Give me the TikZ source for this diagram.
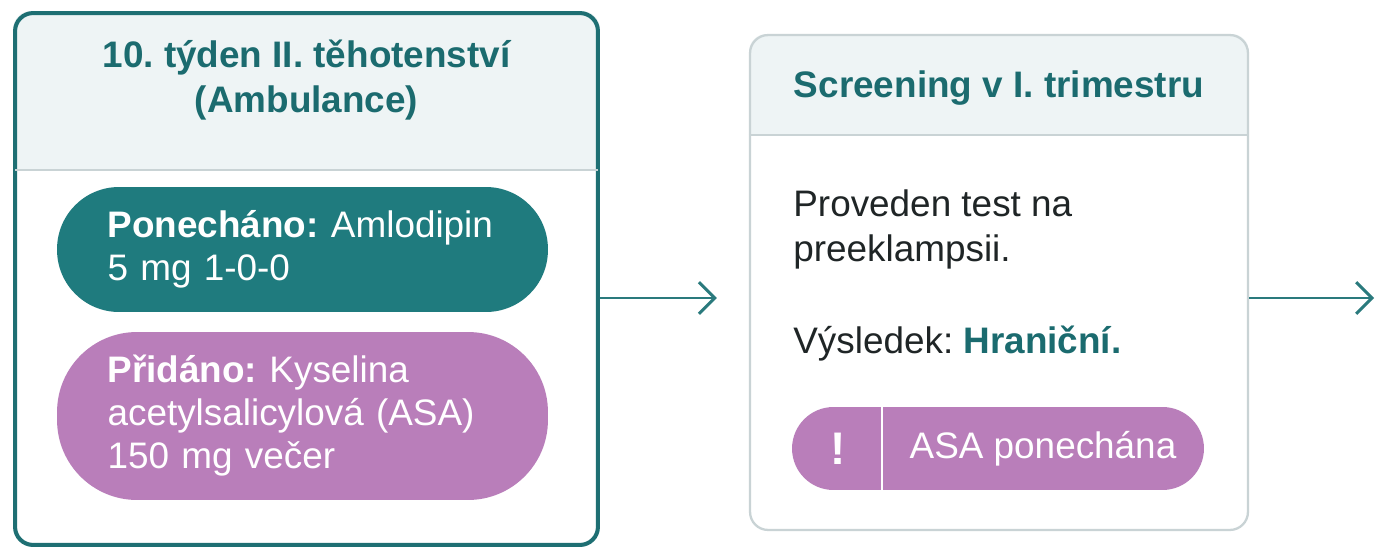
\documentclass[tikz,border=0pt]{standalone}
\usepackage{fontspec}
\setmainfont{Liberation Sans}
\usetikzlibrary{arrows.meta,backgrounds,positioning}
\frenchspacing

\definecolor{tealline}{HTML}{1E6F73}
\definecolor{tealtext}{HTML}{1B6B6F}
\definecolor{tealpill}{HTML}{1F7B7E}
\definecolor{tealarrow}{HTML}{2A7A7D}
\definecolor{lilac}{HTML}{B97EBA}
\definecolor{hdrfill}{HTML}{EEF4F5}
\definecolor{greyline}{HTML}{C9D3D5}
\definecolor{bodytext}{HTML}{1F2526}

\begin{document}
\begin{tikzpicture}
  [
   x=0.02cm, y=-0.02cm,
   font=\fontsize{21}{26}\selectfont,
   card/.style={rectangle,rounded corners=0.36cm,inner sep=0pt},
   title/.style={align=center,text=tealtext,font=\fontsize{21}{26}\selectfont\bfseries},
   pill/.style={rectangle,text width=7.8cm,inner xsep=1.01cm,inner ysep=0pt,align=left,
                text=white,font=\fontsize{21}{24.5}\selectfont},
   sep/.style={draw=greyline,line width=1pt},
   flow/.style={draw=tealarrow,line width=1.7pt,-{Straight Barb[length=9pt,width=18pt]}}
  ]
   \useasboundingbox (0,0) rectangle (1377,548);

   % cards
   \node[card,draw=tealline,line width=2.3pt,minimum width=11.66cm,minimum height=10.64cm] (amb) at (306.5,279) {};
   \node[card,draw=greyline,line width=1.3pt,minimum width=9.96cm,minimum height=9.9cm] (scr) at (999,282.5) {};

   \coordinate (h1) at (0,170);
   \coordinate (h2) at (0,135);

   \begin{scope}[on background layer]
     \fill[white] (0,0) rectangle (1377,548);
     \begin{scope}
       \clip[rounded corners=0.36cm] (amb.north west) rectangle (amb.south east);
       \fill[hdrfill] (amb.north west) rectangle (amb.east |- h1);
     \end{scope}
     \begin{scope}
       \clip[rounded corners=0.36cm] (scr.north west) rectangle (scr.south east);
       \fill[hdrfill] (scr.north west) rectangle (scr.east |- h2);
     \end{scope}
   \end{scope}
   \draw[sep,shorten <=1.2pt,shorten >=1.2pt] (amb.west |- h1) -- (amb.east |- h1);
   \draw[sep] (scr.west |- h2) -- (scr.east |- h2);

   % left card
   \node[title] (ambtitle) at (306.5,80) {10. týden II. těhotenství\\(Ambulance)};
   \node[pill,fill=tealpill,minimum height=2.5cm,rounded corners=1.24cm] (keep) at (302.5,249.5)
     {\textbf{Ponecháno:}~Amlodipin\\5 mg 1-0-0};
   \node[pill,fill=lilac,minimum height=3.36cm,rounded corners=1.6cm] (added) at (302.5,416)
     {\textbf{Přidáno:}~Kyselina\\acetylsalicylová~(ASA)\\150 mg večer};

   % right card
   \node[title] (scrtitle) at (999,88) {Screening v I. trimestru};
   \node[anchor=west,inner sep=0pt,align=left,text=bodytext] (result) at (793,275)
     {Proveden test na\\preeklampsii.\\[26pt]Výsledek: {\bfseries\color{tealtext}Hraniční.}};
   \node[rectangle,fill=lilac,minimum width=8.24cm,minimum height=1.66cm,rounded corners=0.83cm] (asa) at (998,448.5) {};
   \coordinate (dv) at (882,0);
   \draw[white,line width=1.6pt] (asa.north -| dv) -- (asa.south -| dv);
   \node[text=white,font=\fontsize{26}{26}\selectfont\bfseries] (warn) at (838,448.5) {!};
   \node[text=white] (asatext) at (1043,448.5) {ASA ponechána};

   % arrows
   \coordinate (ay) at (0,298);
   \coordinate (out) at (1374,298);
   \draw[flow,shorten >=0.64cm] (amb.east |- ay) -- (scr.west |- ay);
   \draw[flow] (scr.east |- ay) -- (out);

\end{tikzpicture}
\end{document}
